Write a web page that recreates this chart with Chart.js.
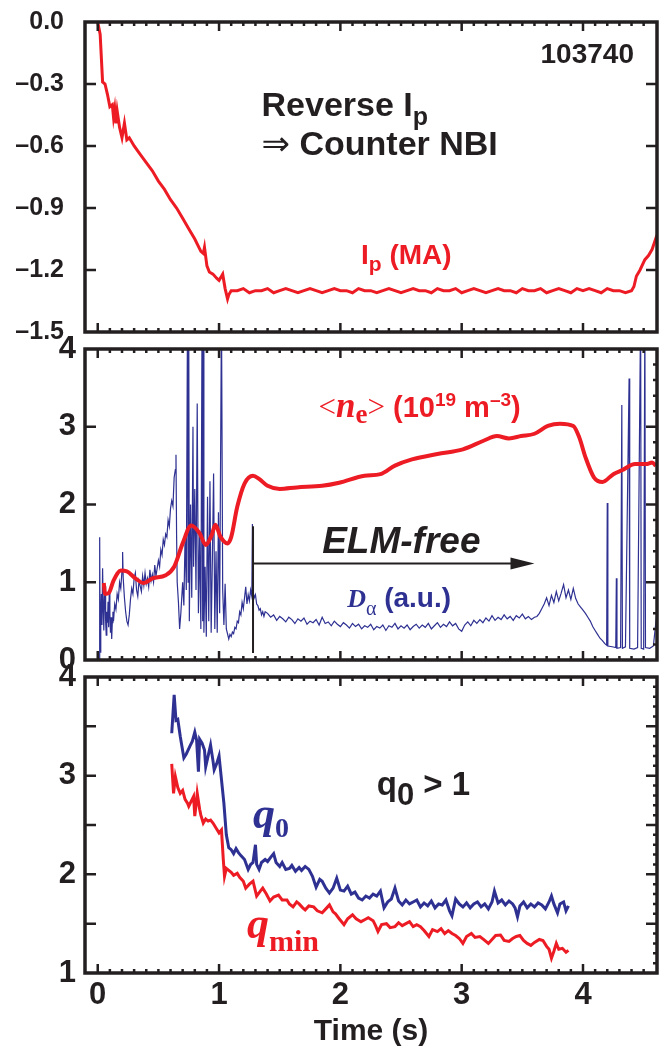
<!DOCTYPE html>
<html>
<head>
<meta charset="utf-8">
<script src="https://cdn.jsdelivr.net/npm/chart.js@4.4.1/dist/chart.umd.min.js"></script>
<style>
  body { margin: 0; background: #fff; }
  #wrap { position: relative; width: 666px; height: 1054px; overflow: hidden; }
  .panel { position: absolute; left: 0; }
</style>
</head>
<body>
<div id="wrap">
  <canvas id="ipChart" class="panel" width="666" height="345" style="top:0"></canvas>
  <canvas id="neChart" class="panel" width="666" height="345" style="top:330px"></canvas>
  <canvas id="qChart" class="panel" width="666" height="399" style="top:655px"></canvas>
</div>
<script>
// ---- data (time in s) ----
const T_MIN = -0.105;
const T_MAX = 4.61;
const timeTicks = [0, 1, 2, 3, 4];
const timeTickLabels = ['0', '1', '2', '3', '4'];

// plasma current Ip (MA)
const ipTicks = [0, -0.3, -0.6, -0.9, -1.2, -1.5];
const ipTickLabels = ['0.0', '\u20130.3', '\u20130.6', '\u20130.9', '\u20131.2', '\u20131.5'];
const ipTrace = [
  [0, 0], [0.02, -0.06], [0.04, -0.29], [0.06, -0.30], [0.08, -0.35], [0.10, -0.41], [0.12, -0.40],
  [0.13, -0.46], [0.14, -0.42], [0.15, -0.49], [0.16, -0.43], [0.18, -0.51], [0.20, -0.56], [0.22, -0.49],
  [0.24, -0.57], [0.26, -0.56], [0.30, -0.60], [0.35, -0.64], [0.40, -0.68], [0.45, -0.72], [0.50, -0.77],
  [0.55, -0.81], [0.60, -0.86], [0.65, -0.90], [0.70, -0.95], [0.75, -1.00], [0.80, -1.05], [0.85, -1.11],
  [0.87, -1.12], [0.88, -1.09], [0.90, -1.18], [0.92, -1.21], [0.95, -1.22], [0.98, -1.24], [1.00, -1.25],
  [1.02, -1.23], [1.03, -1.22], [1.05, -1.29], [1.07, -1.34], [1.08, -1.32], [1.10, -1.30],
  [1.15, -1.30], [1.20, -1.29], [1.25, -1.31], [1.30, -1.30], [1.35, -1.30], [1.40, -1.29], [1.45, -1.31],
  [1.50, -1.30], [1.55, -1.29], [1.60, -1.30], [1.65, -1.31], [1.70, -1.30], [1.75, -1.29], [1.80, -1.30],
  [1.85, -1.31], [1.90, -1.30], [1.95, -1.29], [2.00, -1.30], [2.05, -1.30], [2.10, -1.31], [2.15, -1.29],
  [2.20, -1.30], [2.25, -1.30], [2.30, -1.31], [2.35, -1.30], [2.40, -1.29], [2.45, -1.30], [2.50, -1.31],
  [2.55, -1.30], [2.60, -1.29], [2.65, -1.30], [2.70, -1.30], [2.75, -1.31], [2.80, -1.29], [2.85, -1.30],
  [2.90, -1.30], [2.95, -1.29], [3.00, -1.31], [3.05, -1.30], [3.10, -1.29], [3.15, -1.30], [3.20, -1.31],
  [3.25, -1.30], [3.30, -1.29], [3.35, -1.30], [3.40, -1.30], [3.45, -1.31], [3.50, -1.29], [3.55, -1.30],
  [3.60, -1.30], [3.65, -1.29], [3.70, -1.31], [3.75, -1.30], [3.80, -1.29], [3.85, -1.30], [3.90, -1.31],
  [3.95, -1.29], [4.00, -1.30], [4.05, -1.29], [4.10, -1.30], [4.15, -1.31], [4.20, -1.29], [4.25, -1.30],
  [4.30, -1.30], [4.35, -1.31], [4.40, -1.30], [4.42, -1.28], [4.44, -1.23], [4.47, -1.20], [4.51, -1.15],
  [4.54, -1.13], [4.57, -1.10], [4.61, -1.03]
];

// line-averaged density <ne> (1e19 m^-3) and D-alpha (a.u.)
const neTicks = [0, 1, 2, 3, 4];
const neTickLabels = ['0', '1', '2', '3', '4'];
const neTrace = [
  [0.05, 0.99], [0.06, 0.85], [0.09, 0.86], [0.13, 1.02], [0.19, 1.15], [0.24, 1.14], [0.31, 1.05],
  [0.38, 0.99], [0.45, 1.05], [0.56, 1.09], [0.63, 1.20], [0.70, 1.50], [0.77, 1.73], [0.84, 1.63],
  [0.89, 1.48], [0.94, 1.61], [0.97, 1.74], [1.01, 1.59], [1.07, 1.50], [1.10, 1.58], [1.15, 1.97],
  [1.21, 2.27], [1.28, 2.37], [1.33, 2.33], [1.40, 2.24], [1.50, 2.20], [1.64, 2.22], [1.85, 2.24],
  [1.99, 2.28], [2.20, 2.37], [2.33, 2.39], [2.45, 2.50], [2.59, 2.58], [2.80, 2.65], [3.01, 2.71],
  [3.18, 2.82], [3.29, 2.88], [3.39, 2.85], [3.49, 2.88], [3.60, 2.91], [3.71, 3.01], [3.81, 3.04],
  [3.92, 3.01], [3.97, 2.86], [4.02, 2.61], [4.09, 2.35], [4.16, 2.29], [4.25, 2.39], [4.32, 2.44],
  [4.43, 2.52], [4.52, 2.52], [4.57, 2.54], [4.60, 2.50]
];
const dAlphaTrace = [
  [-0.10, 0.0], [0.012, 0.0], [0.016, 1.58], [0.02, 0.10], [0.025, 0.55], [0.03, 0.85], [0.035, 0.45],
  [0.04, 1.18], [0.045, 0.70], [0.05, 0.38], [0.055, 0.80], [0.06, 0.95], [0.065, 0.50], [0.07, 0.32],
  [0.075, 0.62], [0.08, 0.48], [0.085, 0.75], [0.09, 0.42], [0.095, 0.88], [0.10, 0.60], [0.105, 0.35],
  [0.11, 0.55], [0.115, 0.27], [0.12, 0.48], [0.125, 0.62], [0.13, 0.50], [0.14, 0.72], [0.15, 0.65],
  [0.16, 0.85], [0.17, 0.78], [0.18, 1.00], [0.19, 0.92], [0.20, 1.15], [0.205, 1.39], [0.21, 1.05],
  [0.22, 0.80], [0.23, 0.62], [0.24, 0.50], [0.25, 0.45], [0.26, 0.58], [0.27, 0.78], [0.28, 0.92],
  [0.29, 0.85], [0.30, 1.05], [0.31, 1.12], [0.32, 0.90], [0.33, 0.82], [0.34, 1.02], [0.35, 0.95],
  [0.36, 0.88], [0.37, 1.08], [0.38, 0.96], [0.39, 1.12], [0.40, 0.98], [0.41, 1.05], [0.42, 0.94],
  [0.43, 1.16], [0.44, 1.02], [0.45, 1.10], [0.46, 1.00], [0.47, 1.22], [0.48, 1.08], [0.49, 1.18],
  [0.50, 1.28], [0.51, 1.20], [0.52, 1.42], [0.53, 1.35], [0.54, 1.55], [0.55, 1.48], [0.56, 1.62],
  [0.57, 1.58], [0.58, 1.80], [0.59, 1.72], [0.60, 1.95], [0.61, 2.05], [0.62, 1.98], [0.63, 2.35],
  [0.64, 2.45], [0.645, 2.64], [0.65, 1.60], [0.655, 1.00], [0.665, 0.75], [0.675, 0.40], [0.685, 0.60],
  [0.70, 1.00], [0.71, 0.70], [0.72, 1.60], [0.73, 0.90], [0.74, 4.5], [0.745, 1.00], [0.75, 4.5],
  [0.755, 0.50], [0.765, 2.00], [0.775, 0.80], [0.785, 3.00], [0.79, 1.20], [0.80, 2.20], [0.81, 0.90],
  [0.82, 3.30], [0.83, 0.60], [0.84, 1.60], [0.85, 0.40], [0.86, 4.5], [0.865, 0.50], [0.87, 4.5],
  [0.875, 0.35], [0.885, 1.20], [0.895, 0.30], [0.905, 2.10], [0.915, 0.50], [0.925, 2.30], [0.935, 0.35],
  [0.945, 1.30], [0.955, 2.40], [0.965, 0.40], [0.975, 1.40], [0.985, 0.35], [0.995, 1.90], [1.005, 0.60],
  [1.02, 4.5], [1.03, 0.90], [1.04, 0.45], [1.05, 0.98], [1.06, 0.40], [1.08, 0.27], [1.09, 0.33],
  [1.10, 0.30], [1.11, 0.36], [1.12, 0.34], [1.13, 0.42], [1.14, 0.40], [1.15, 0.50], [1.16, 0.48],
  [1.17, 0.62], [1.18, 0.58], [1.19, 0.74], [1.20, 0.66], [1.21, 0.80], [1.22, 0.94], [1.23, 0.72],
  [1.24, 0.84], [1.25, 0.76], [1.26, 0.90], [1.27, 0.82], [1.275, 1.75], [1.28, 0.88], [1.29, 0.80],
  [1.30, 0.84], [1.31, 0.72], [1.32, 0.70], [1.33, 0.64], [1.34, 0.66], [1.35, 0.58], [1.36, 0.62],
  [1.37, 0.56], [1.38, 0.62],
  [1.400, 0.60], [1.425, 0.55], [1.450, 0.58], [1.475, 0.51], [1.500, 0.56], [1.525, 0.53], [1.550, 0.49],
  [1.575, 0.55], [1.600, 0.52], [1.625, 0.47], [1.650, 0.53], [1.675, 0.50], [1.700, 0.54], [1.725, 0.46],
  [1.750, 0.50], [1.775, 0.48], [1.800, 0.52], [1.825, 0.45], [1.850, 0.55], [1.875, 0.47], [1.900, 0.49],
  [1.925, 0.44], [1.950, 0.50], [1.975, 0.46], [2.000, 0.43], [2.025, 0.48], [2.050, 0.45], [2.075, 0.41],
  [2.100, 0.47], [2.125, 0.43], [2.150, 0.46], [2.175, 0.40], [2.200, 0.44], [2.225, 0.42], [2.250, 0.46],
  [2.275, 0.39], [2.300, 0.43], [2.325, 0.41], [2.350, 0.45], [2.375, 0.38], [2.400, 0.44], [2.425, 0.42],
  [2.450, 0.47], [2.475, 0.40], [2.500, 0.44], [2.525, 0.41], [2.550, 0.45], [2.575, 0.39], [2.600, 0.43],
  [2.625, 0.46], [2.650, 0.41], [2.675, 0.45], [2.700, 0.42], [2.725, 0.47], [2.750, 0.40], [2.775, 0.44],
  [2.800, 0.48], [2.825, 0.42], [2.850, 0.46], [2.875, 0.43], [2.900, 0.49], [2.925, 0.44], [2.950, 0.47],
  [2.975, 0.40], [3.000, 0.37], [3.025, 0.45], [3.050, 0.49], [3.075, 0.44], [3.100, 0.51], [3.125, 0.47],
  [3.150, 0.52], [3.175, 0.48], [3.200, 0.54], [3.225, 0.50], [3.250, 0.57], [3.275, 0.51], [3.300, 0.55],
  [3.325, 0.52], [3.350, 0.58], [3.375, 0.53], [3.400, 0.56], [3.425, 0.51], [3.450, 0.57], [3.475, 0.54],
  [3.500, 0.59], [3.525, 0.53], [3.550, 0.56], [3.575, 0.52], [3.600, 0.55],
  [3.62, 0.56], [3.64, 0.60], [3.66, 0.66], [3.68, 0.72], [3.70, 0.80], [3.72, 0.70], [3.74, 0.83],
  [3.76, 0.74], [3.78, 0.88], [3.80, 0.76], [3.82, 0.86], [3.84, 0.97], [3.86, 0.80], [3.88, 0.90],
  [3.90, 0.78], [3.92, 0.92], [3.94, 0.79], [3.96, 0.72], [3.98, 0.68], [4.00, 0.64], [4.02, 0.60],
  [4.04, 0.55], [4.06, 0.50], [4.08, 0.43], [4.10, 0.38], [4.12, 0.33], [4.14, 0.28], [4.16, 0.25],
  [4.18, 0.21], [4.195, 0.19], [4.20, 2.02], [4.205, 0.18], [4.24, 0.17], [4.27, 0.16], [4.275, 1.05],
  [4.28, 0.15], [4.31, 0.16], [4.32, 3.28], [4.325, 0.15], [4.35, 0.17], [4.38, 3.62], [4.385, 0.15],
  [4.42, 0.14], [4.45, 0.16], [4.475, 4.5], [4.48, 0.15], [4.50, 0.14], [4.51, 4.5], [4.515, 0.16],
  [4.55, 0.15], [4.58, 0.18], [4.61, 0.62]
];

// safety factor q0 and qmin
const qTicks = [1, 1.5, 2, 2.5, 3, 3.5, 4];
const qTickLabels = ['1', '', '2', '', '3', '', '4'];
const q0Trace = [
  [0.61, 3.43], [0.63, 3.82], [0.645, 3.56], [0.66, 3.57], [0.68, 3.40], [0.71, 3.18], [0.73, 3.22],
  [0.76, 3.30], [0.78, 3.35], [0.80, 3.44], [0.815, 3.36], [0.83, 3.04], [0.84, 3.37], [0.86, 3.33],
  [0.88, 3.26], [0.89, 3.09], [0.91, 3.20], [0.93, 3.31], [0.95, 3.15], [0.96, 3.06], [0.98, 3.12],
  [1.00, 3.20], [1.02, 2.96], [1.04, 2.72], [1.06, 2.40], [1.08, 2.27], [1.10, 2.25], [1.12, 2.21],
  [1.14, 2.26], [1.16, 2.22], [1.18, 2.19], [1.21, 2.15], [1.24, 2.05], [1.26, 2.10], [1.28, 2.12],
  [1.30, 2.30], [1.31, 2.10], [1.33, 2.05], [1.35, 2.12], [1.38, 2.15], [1.40, 2.13], [1.43, 2.18],
  [1.45, 2.21], [1.47, 2.12], [1.50, 2.08], [1.52, 2.12], [1.55, 2.05], [1.58, 2.06], [1.60, 2.09],
  [1.63, 2.03], [1.66, 2.07], [1.68, 2.04], [1.71, 2.08], [1.74, 2.05], [1.77, 1.98], [1.80, 1.87],
  [1.83, 1.95], [1.85, 1.93], [1.88, 1.86], [1.91, 1.81], [1.94, 1.86], [1.97, 1.96], [2.00, 1.84],
  [2.03, 1.83], [2.06, 1.88], [2.09, 1.80], [2.12, 1.82], [2.15, 1.76], [2.18, 1.74], [2.21, 1.78],
  [2.24, 1.76], [2.27, 1.80], [2.30, 1.78], [2.33, 1.83], [2.36, 1.66], [2.39, 1.72], [2.42, 1.75],
  [2.45, 1.86], [2.48, 1.73], [2.51, 1.69], [2.54, 1.74], [2.57, 1.70], [2.60, 1.72], [2.63, 1.74],
  [2.66, 1.67], [2.69, 1.71], [2.72, 1.68], [2.75, 1.73], [2.78, 1.66], [2.81, 1.70], [2.84, 1.69],
  [2.87, 1.74], [2.90, 1.63], [2.92, 1.58], [2.95, 1.75], [2.98, 1.70], [3.01, 1.67], [3.04, 1.71],
  [3.07, 1.66], [3.10, 1.70], [3.13, 1.72], [3.16, 1.67], [3.19, 1.70], [3.22, 1.65], [3.25, 1.72],
  [3.27, 1.83], [3.30, 1.71], [3.33, 1.74], [3.36, 1.69], [3.39, 1.73], [3.42, 1.70], [3.44, 1.66],
  [3.46, 1.57], [3.48, 1.68], [3.51, 1.72], [3.54, 1.66], [3.57, 1.70], [3.60, 1.67], [3.63, 1.71],
  [3.66, 1.69], [3.69, 1.65], [3.72, 1.72], [3.74, 1.78], [3.76, 1.70], [3.79, 1.61], [3.81, 1.70],
  [3.84, 1.72], [3.86, 1.63], [3.88, 1.68]
];
const qminTrace = [
  [0.61, 3.12], [0.625, 2.82], [0.64, 2.99], [0.66, 2.88], [0.68, 2.82], [0.70, 2.85], [0.72, 2.76],
  [0.74, 2.72], [0.75, 2.69], [0.77, 2.74], [0.79, 2.79], [0.80, 2.59], [0.81, 2.70], [0.82, 2.82],
  [0.84, 2.66], [0.85, 2.60], [0.87, 2.52], [0.89, 2.56], [0.91, 2.54], [0.93, 2.55], [0.95, 2.52],
  [0.96, 2.50], [0.98, 2.46], [1.00, 2.42], [1.02, 2.45], [1.035, 2.15], [1.045, 1.98], [1.06, 2.06],
  [1.08, 2.04], [1.10, 2.02], [1.12, 1.99], [1.15, 2.01], [1.17, 1.97], [1.20, 1.93], [1.22, 1.86],
  [1.25, 1.90], [1.28, 1.93], [1.31, 1.78], [1.34, 1.83], [1.36, 1.86], [1.39, 1.80], [1.42, 1.73],
  [1.45, 1.77], [1.49, 1.79], [1.52, 1.74], [1.56, 1.74], [1.58, 1.70], [1.61, 1.67], [1.64, 1.72],
  [1.66, 1.70], [1.69, 1.66], [1.71, 1.64], [1.74, 1.68], [1.78, 1.67], [1.81, 1.63], [1.85, 1.61],
  [1.88, 1.65], [1.91, 1.69], [1.94, 1.62], [1.96, 1.60], [1.99, 1.55], [2.03, 1.49], [2.06, 1.55],
  [2.10, 1.59], [2.13, 1.55], [2.17, 1.52], [2.20, 1.54], [2.23, 1.56], [2.27, 1.53], [2.29, 1.48],
  [2.31, 1.42], [2.34, 1.49], [2.38, 1.50], [2.41, 1.46], [2.45, 1.47], [2.48, 1.51], [2.51, 1.48],
  [2.54, 1.50], [2.57, 1.52], [2.60, 1.47], [2.63, 1.49], [2.66, 1.47], [2.69, 1.43], [2.73, 1.37],
  [2.76, 1.44], [2.80, 1.42], [2.83, 1.45], [2.86, 1.40], [2.89, 1.43], [2.92, 1.40], [2.95, 1.38],
  [2.98, 1.35], [3.01, 1.30], [3.04, 1.37], [3.08, 1.40], [3.11, 1.36], [3.15, 1.37], [3.18, 1.34],
  [3.22, 1.30], [3.25, 1.34], [3.28, 1.38], [3.32, 1.385], [3.35, 1.33], [3.39, 1.32], [3.42, 1.35],
  [3.45, 1.37], [3.48, 1.38], [3.51, 1.33], [3.54, 1.30], [3.57, 1.28], [3.60, 1.31], [3.64, 1.34],
  [3.67, 1.33], [3.70, 1.27], [3.72, 1.24], [3.74, 1.15], [3.76, 1.22], [3.78, 1.30], [3.80, 1.24],
  [3.83, 1.25], [3.86, 1.21], [3.88, 1.23]
];

// ---- styling ----
const RED = '#ed1c24';
const BLUE = '#2e3192';
const INK = '#231f20';
const SANS = "'Liberation Sans', Arial, sans-serif";
const NARROW = "'Liberation Sans Narrow', 'Liberation Sans', Arial, sans-serif";
const SERIF = "'Liberation Serif', 'Times New Roman', serif";
const font = (style, size, fam) => `${style} ${size}px ${fam}`;

function toPoints(trace) {
  return trace.map(([t, v]) => ({ x: t, y: v }));
}

// draws a run of text pieces (for sub/superscripts) left to right
function drawRuns(ctx, x0, y0, runs, align) {
  let total = 0;
  runs.forEach(r => { ctx.font = r.font; r.w = ctx.measureText(r.text).width; total += r.w; });
  let x = align === 'right' ? x0 - total : x0;
  runs.forEach(r => {
    ctx.font = r.font;
    ctx.fillStyle = r.color;
    ctx.fillText(r.text, x, y0 + (r.dy || 0));
    x += r.w;
  });
}

// boxed frame with inward ticks on all sides
const frame = {
  id: 'frame',
  afterDatasetsDraw(chart, args, opts) {
    const { ctx, chartArea: a, scales: { x, y } } = chart;
    ctx.save();
    ctx.strokeStyle = INK;
    ctx.lineWidth = 2.5;
    ctx.beginPath();
    for (let i = -1; i <= 46; i++) {
      const px = x.getPixelForValue(i / 10);
      if (px <= a.left + 2 || px >= a.right - 2) continue;
      const len = i % 10 === 0 ? 9 : 4;
      ctx.moveTo(px, a.bottom); ctx.lineTo(px, a.bottom - len);
      ctx.moveTo(px, a.top); ctx.lineTo(px, a.top + len);
    }
    y.ticks.forEach(t => {
      const py = y.getPixelForValue(t.value);
      if (py <= a.top + 2 || py >= a.bottom - 2) return;
      ctx.moveTo(a.left, py); ctx.lineTo(a.left + 11, py);
      ctx.moveTo(a.right, py); ctx.lineTo(a.right - 11, py);
    });
    if (opts.yMinor) {
      const n = Math.round((y.max - y.min) / opts.yMinor);
      for (let i = 1; i < n; i++) {
        const py = y.getPixelForValue(y.min + i * opts.yMinor);
        ctx.moveTo(a.right, py); ctx.lineTo(a.right - 4, py);
      }
    }
    ctx.stroke();
    ctx.lineWidth = 3.5;
    ctx.strokeRect(a.left, a.top, a.right - a.left, a.bottom - a.top);
    ctx.restore();
  }
};

// text annotations placed in data coordinates
const notes = {
  id: 'notes',
  afterDraw(chart, args, opts) {
    const { ctx, scales: { x, y } } = chart;
    ctx.save();
    ctx.textBaseline = 'alphabetic';
    (opts.labels || []).forEach(l => {
      drawRuns(ctx, x.getPixelForValue(l.t), y.getPixelForValue(l.v), l.runs, l.align);
    });
    if (opts.marker) {
      const m = opts.marker;
      const x0 = x.getPixelForValue(m.t0);
      const x1 = x.getPixelForValue(m.t1);
      const ya = y.getPixelForValue(m.arrowV);
      ctx.strokeStyle = INK;
      ctx.fillStyle = INK;
      ctx.lineWidth = 2;
      ctx.beginPath();
      ctx.moveTo(x0, y.getPixelForValue(m.lineFrom));
      ctx.lineTo(x0, y.getPixelForValue(m.lineTo));
      ctx.moveTo(x0, ya);
      ctx.lineTo(x1 - 20, ya);
      ctx.stroke();
      ctx.beginPath();
      ctx.moveTo(x1, ya);
      ctx.lineTo(x1 - 24, ya - 6);
      ctx.lineTo(x1 - 24, ya + 6);
      ctx.closePath();
      ctx.fill();
    }
    ctx.restore();
  }
};

function timeAxis(show) {
  return {
    type: 'linear', min: T_MIN, max: T_MAX, bounds: 'data', display: show,
    afterBuildTicks: s => { s.ticks = timeTicks.map(v => ({ value: v })); },
    ticks: {
      callback: (v, i) => timeTickLabels[i],
      font: { family: NARROW, size: 31, weight: 'bold' },
      color: INK, padding: 4, maxRotation: 0, autoSkip: false
    },
    grid: { display: false, drawTicks: false },
    border: { display: false },
    title: {
      display: show, text: 'Time (s)', color: INK,
      font: { family: SANS, size: 30, weight: 'bold' },
      padding: { top: 0, bottom: 4 }
    },
    afterFit: s => {
      if (show) s.height = 81;
      s.paddingLeft = 0; s.paddingRight = 0;
    }
  };
}

function valueAxis(min, max, tickValues, tickLabels, fam, size, pad) {
  return {
    type: 'linear', min: min, max: max, bounds: 'data',
    afterBuildTicks: s => { s.ticks = tickValues.map(v => ({ value: v })); },
    ticks: {
      callback: (v, i) => tickLabels[i],
      font: { family: fam, size: size, weight: 'bold' },
      color: INK, padding: pad, autoSkip: false
    },
    grid: { display: false, drawTicks: false },
    border: { display: false },
    afterFit: s => { s.width = 85; s.paddingTop = 0; s.paddingBottom = 0; }
  };
}

function baseOptions(pad, scales, pluginOpts) {
  return {
    responsive: false,
    animation: false,
    devicePixelRatio: 1,
    layout: { padding: pad, autoPadding: false },
    elements: { point: { radius: 0 } },
    plugins: Object.assign({ legend: { display: false }, tooltip: { enabled: false } }, pluginOpts),
    scales: scales
  };
}

// ---- panel 1: Ip ----
new Chart(document.getElementById('ipChart'), {
  type: 'line',
  data: {
    datasets: [{
      data: toPoints(ipTrace), borderColor: RED, borderWidth: 3, tension: 0
    }]
  },
  options: baseOptions({ top: 22, bottom: 13, left: 0, right: 9 }, {
    x: timeAxis(false),
    y: valueAxis(-1.5, 0, ipTicks, ipTickLabels, SANS, 25, 21)
  }, {
    frame: {},
    notes: {
      labels: [
        { t: 4.42, v: -0.198, align: 'right', runs: [
          { text: '103740', font: font('bold', 28, SANS), color: INK }] },
        { t: 1.35, v: -0.457, runs: [
          { text: 'Reverse I', font: font('bold', 34, SANS), color: INK },
          { text: 'p', font: font('bold', 25, SANS), color: INK, dy: 9 }] },
        { t: 1.35, v: -0.642, runs: [
          { text: '\u21D2', font: font('normal', 34, "'DejaVu Sans', sans-serif"), color: INK },
          { text: ' Counter NBI', font: font('bold', 34, SANS), color: INK }] },
        { t: 2.17, v: -1.172, runs: [
          { text: 'I', font: font('bold', 28, SANS), color: RED },
          { text: 'p', font: font('bold', 21, SANS), color: RED, dy: 7 },
          { text: ' (MA)', font: font('bold', 28, SANS), color: RED }] }
      ]
    }
  }),
  plugins: [frame, notes]
});

// ---- panel 2: <ne> and D-alpha ----
new Chart(document.getElementById('neChart'), {
  type: 'line',
  data: {
    datasets: [
      { data: toPoints(neTrace), borderColor: RED, borderWidth: 4, cubicInterpolationMode: 'monotone', order: 0 },
      { data: toPoints(dAlphaTrace), borderColor: BLUE, borderWidth: 1.2, tension: 0, order: 1 }
    ]
  },
  options: baseOptions({ top: 19, bottom: 15, left: 0, right: 9 }, {
    x: timeAxis(false),
    y: valueAxis(0, 4, neTicks, neTickLabels, NARROW, 31, 9)
  }, {
    frame: { yMinor: 0.2 },
    notes: {
      labels: [
        { t: 1.82, v: 3.12, runs: [
          { text: '<', font: font('normal', 31, SERIF), color: RED },
          { text: 'n', font: font('bold italic', 35, SERIF), color: RED },
          { text: 'e', font: font('bold', 27, SERIF), color: RED, dy: 6 },
          { text: '>', font: font('normal', 31, SERIF), color: RED },
          { text: ' (10', font: font('bold', 29, SANS), color: RED },
          { text: '19', font: font('bold', 19, SANS), color: RED, dy: -11 },
          { text: ' m', font: font('bold', 29, SANS), color: RED },
          { text: '\u20133', font: font('bold', 19, SANS), color: RED, dy: -11 },
          { text: ')', font: font('bold', 29, SANS), color: RED }] },
        { t: 1.85, v: 1.37, runs: [
          { text: 'ELM-free', font: font('bold italic', 37, SANS), color: INK }] },
        { t: 2.056, v: 0.68, runs: [
          { text: 'D', font: font('bold italic', 26, SERIF), color: BLUE },
          { text: '\u03B1', font: font('normal', 20, SERIF), color: BLUE, dy: 8 },
          { text: ' (a.u.)', font: font('bold', 28, SANS), color: BLUE }] }
      ],
      marker: { t0: 1.28, t1: 3.60, arrowV: 1.24, lineFrom: 0.09, lineTo: 1.72 }
    }
  }),
  plugins: [frame, notes]
});

// ---- panel 3: q0 and qmin ----
new Chart(document.getElementById('qChart'), {
  type: 'line',
  data: {
    datasets: [
      { data: toPoints(q0Trace), borderColor: BLUE, borderWidth: 3, tension: 0 },
      { data: toPoints(qminTrace), borderColor: RED, borderWidth: 3, tension: 0 }
    ]
  },
  options: baseOptions({ top: 22, bottom: 0, left: 0, right: 9 }, {
    x: timeAxis(true),
    y: valueAxis(1, 4, qTicks, qTickLabels, NARROW, 31, 9)
  }, {
    frame: { yMinor: 0.1 },
    notes: {
      labels: [
        { t: 2.30, v: 2.80, runs: [
          { text: 'q', font: font('bold', 33, SANS), color: INK },
          { text: '0', font: font('bold', 31, SANS), color: INK, dy: 10 },
          { text: ' > 1', font: font('bold', 33, SANS), color: INK }] },
        { t: 1.28, v: 2.47, runs: [
          { text: 'q', font: font('bold italic', 44, SERIF), color: BLUE },
          { text: '0', font: font('bold', 28, SERIF), color: BLUE, dy: 9 }] },
        { t: 1.23, v: 1.355, runs: [
          { text: 'q', font: font('bold italic', 44, SERIF), color: RED },
          { text: 'min', font: font('bold', 30, SERIF), color: RED, dy: 13 }] }
      ]
    }
  }),
  plugins: [frame, notes]
});
</script>
</body>
</html>
